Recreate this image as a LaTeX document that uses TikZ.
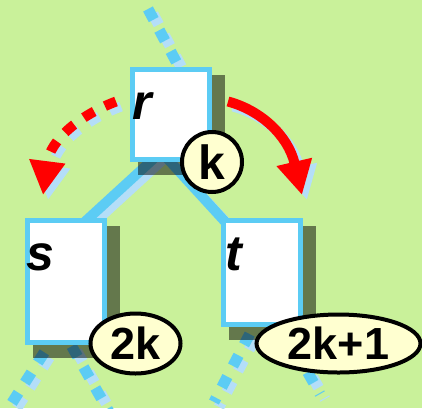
\documentclass[tikz,border=0pt]{standalone}
\usepackage{fontspec}
\setmainfont{Liberation Sans}
\usetikzlibrary{shapes.geometric,arrows.meta}
\definecolor{meadow}{RGB}{201,241,154}
\definecolor{sky}{RGB}{92,204,244}
\definecolor{pale}{RGB}{180,222,248}
\definecolor{cream}{RGB}{255,255,208}
\pgfdeclarelayer{back}\pgfdeclarelayer{links}\pgfdeclarelayer{shade}
\pgfsetlayers{back,links,shade,main}
\begin{document}
\begin{tikzpicture}[x=1pt,y=-1pt,
	box/.style={rectangle,draw=sky,line width=5pt,fill=white,minimum width=77pt,inner sep=0pt},
	letter/.style={font=\fontsize{50}{50}\selectfont\bfseries\itshape,inner sep=0pt,anchor=base west},
	tag/.style={draw=black,line width=4pt,fill=cream,inner sep=0pt,font=\fontsize{45}{45}\selectfont\bfseries},
	edge/.style={line width=10pt},
	dots/.style={line width=11pt,dash pattern=on 12pt off 12pt},
	turn/.style={line width=10pt,-{Triangle[length=34pt,width=34pt]}},
	shadowbox/.style={fill=black,opacity=.5}]
	\useasboundingbox (0,0) rectangle (422,408);
	\begin{pgfonlayer}{back}
		\fill[meadow] (0,0) rectangle (422,408);
	\end{pgfonlayer}
	
	\node[box,minimum height=90pt] (r) at (171,114.5) {};
	\node[box,minimum height=122pt] (s) at (66,281.5) {};
	\node[box,minimum height=104pt] (t) at (262,272.5) {};
	\node[letter] (rname) at ([shift={(2,52.5)}]r.north west) {r};
	\node[letter] (sname) at ([shift={(1.5,52.5)}]s.north west) {s};
	\node[letter] (tname) at ([shift={(4,52.5)}]t.north west) {t};
	
	\coordinate (up) at (148,9);
	\coordinate (sleft) at (1,420);
	\coordinate (sright) at (109,412);
	\coordinate (tleft) at (214,402);
	\coordinate (tright) at (320,394);
	\coordinate (ltip) at (43,195);
	\coordinate (rtip) at (302,195);
	
	\begin{pgfonlayer}{links}
		\foreach \c/\d in {pale/5,sky/0}{
			\draw[edge,\c] ([shift={(\d-10,\d-10)}]r.south) -- ([shift={(\d+12,\d+10)}]s.north);
			\draw[edge,\c] ([shift={(\d-6,\d-6)}]r.south) -- ([shift={(\d+8,\d+8)}]t.north west);
			\draw[dots,\c] ([shift={(\d,\d)}]up) -- ([shift={(\d+8,\d)}]r.north);
			\draw[dots,\c,dash phase=15.3pt] ([shift={(\d-17,\d)}]s.south) -- ([shift={(\d,\d)}]sleft);
			\draw[dots,\c,dash phase=22.6pt] ([shift={(\d+5,\d)}]s.south) -- ([shift={(\d,\d)}]sright);
			\draw[dots,\c,dash phase=16pt] ([shift={(\d-8.6,\d)}]t.south) -- ([shift={(\d,\d)}]tleft);
			\draw[dots,\c,dash phase=20pt] ([shift={(\d+20,\d)}]t.south) -- ([shift={(\d,\d)}]tright);
		}
	\end{pgfonlayer}
	\begin{pgfonlayer}{shade}
		\foreach \n in {r,s,t}
		\fill[shadowbox] ([shift={(7.5,7.5)}]\n.north west) rectangle ([shift={(12.5,12.5)}]\n.south east);
	\end{pgfonlayer}
	
	\foreach \c/\d in {pale/5,red/0}{
		\draw[turn,\c,dash pattern=on 12pt off 12pt] ([shift={(\d-14,\d-13)}]r.west)
		.. controls ([shift={(\d,\d)}]80,115) and ([shift={(\d,\d)}]50,140) .. ([shift={(\d,\d)}]ltip);
		\draw[turn,\c] ([shift={(\d+16,\d-13)}]r.east)
		.. controls ([shift={(\d,\d)}]260,110) and ([shift={(\d,\d)}]288,135) .. ([shift={(\d,\d)}]rtip);
	}
	
	\node[tag,circle,minimum size=60pt,font=\fontsize{48}{48}\selectfont\bfseries] (kr) at (r.south east) {k};
	\node[tag,ellipse,minimum width=90pt,minimum height=60pt] (ks) at ([shift={(28.5,-1.5)}]s.south east) {2k};
	\node[tag,ellipse,minimum width=164pt,minimum height=58pt] (kt) at ([shift={(35.5,16.5)}]t.south east) {2k+1};
\end{tikzpicture}
\end{document}
